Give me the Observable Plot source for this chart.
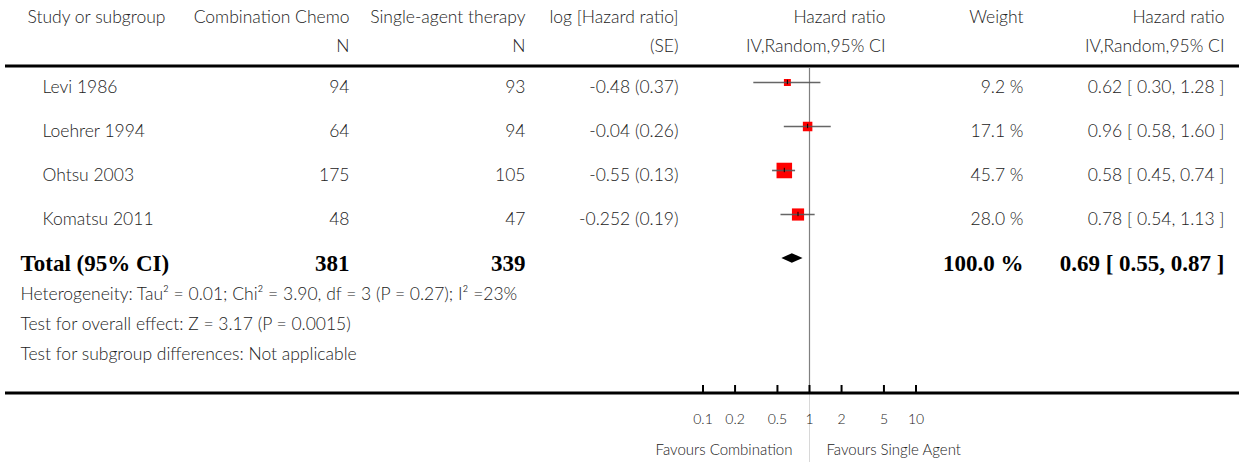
<!DOCTYPE html>
<html><head><meta charset="utf-8">
<script src="https://cdn.jsdelivr.net/npm/d3@7"></script>
<script src="https://cdn.jsdelivr.net/npm/@observablehq/plot@0.6"></script>
<style>body{margin:0;background:#fff}</style>
</head><body><div id="chart"></div>
<script>
// ---- data ----
const studies = ["Levi 1986", "Loehrer 1994", "Ohtsu 2003", "Komatsu 2011"];
const nCombination = [94, 64, 175, 48];
const nSingle = [93, 94, 105, 47];
const logHR = ["-0.48", "-0.04", "-0.55", "-0.252"];
const seLogHR = ["0.37", "0.26", "0.13", "0.19"];
const weights = [9.2, 17.1, 45.7, 28.0];
const hazardRatio = [0.62, 0.96, 0.58, 0.78];
const ciLower = [0.30, 0.58, 0.45, 0.54];
const ciUpper = [1.28, 1.60, 0.74, 1.13];
const totalLabel = "Total (95% CI)";
const totalCombination = 381;
const totalSingle = 339;
const totalWeight = 100.0;
const totalHR = 0.69;
const totalLower = 0.55;
const totalUpper = 0.87;
const headerLine1 = ["Study or subgroup", "Combination Chemo", "Single-agent therapy", "log [Hazard ratio]", "Hazard ratio", "Weight", "Hazard ratio"];
const headerLine2 = ["", "N", "N", "(SE)", "IV,Random,95% CI", "", "IV,Random,95% CI"];
const footnotes = [
  "Heterogeneity: Tau\u00B2 = 0.01; Chi\u00B2 = 3.90, df = 3 (P = 0.27); I\u00B2 =23%",
  "Test for overall effect: Z = 3.17 (P = 0.0015)",
  "Test for subgroup differences: Not applicable"
];
const axisTicks = [0.1, 0.2, 0.5, 1, 2, 5, 10];
const axisTickLabels = ["0.1", "0.2", "0.5", "1", "2", "5", "10"];
const favoursLeft = "Favours Combination";
const favoursRight = "Favours Single Agent";

// ---- table built from arrays ----
const rows = studies.map((s, i) => ({
  i, study: s, nc: nCombination[i], ns: nSingle[i],
  lse: `${logHR[i]} (${seLogHR[i]})`,
  w: weights[i], hr: hazardRatio[i], lo: ciLower[i], hi: ciUpper[i]
}));
const totalRow = 4;
const fmtCI = (h, l, u) => `${h.toFixed(2)} [ ${l.toFixed(2)}, ${u.toFixed(2)} ]`;

// ---- layout (pixels) ----
const W = 1239, H = 462;
const colX = [27, 349, 525, 678, 885, 1023, 1224];
const colAnchor = ["start", "end", "end", "end", "end", "end", "end"];
const FONT = "Lato, 'Open Sans', sans-serif";
const TXT = "#222";
const light = {fill: TXT, fontWeight: 300, fontSize: 17.5};
const bold = {fill: "#000", fontWeight: "bold", fontSize: 23, fontFamily: "'Liberation Serif', 'DejaVu Serif', serif"};

const at = (str, dx, dy, anchor, opts = {}) =>
  Plot.text([str], {text: d => d, frameAnchor: "top-left", dx, dy, textAnchor: anchor, lineAnchor: "middle", ...light, ...opts});

const marks = [];
// header
headerLine1.forEach((h, k) => marks.push(at(h, colX[k], 17, colAnchor[k])));
headerLine2.forEach((h, k) => { if (h) marks.push(at(h, colX[k], 46, colAnchor[k])); });
marks.push(Plot.ruleY([0], {dy: -16.5, strokeWidth: 3, stroke: "#000", insetLeft: 5}));

// reference line at HR = 1
marks.push(Plot.ruleX([1], {stroke: "#808080", strokeWidth: 1.2, insetTop: 67, insetBottom: H - 392}));
marks.push(Plot.ruleX([1], {stroke: "#d8d8d8", strokeWidth: 1, insetTop: 392}));

// row text
const rowText = (field, k, opts = {}) => Plot.text(rows, {y: "i", text: field, frameAnchor: "left", dx: colX[k], dy: 5, textAnchor: colAnchor[k], lineAnchor: "middle", ...light, ...opts});
marks.push(rowText("study", 0, {dx: 42}));
marks.push(rowText("nc", 1));
marks.push(rowText("ns", 2));
marks.push(rowText("lse", 3));
marks.push(rowText(d => `${d.w.toFixed(1)} %`, 5));
marks.push(rowText(d => fmtCI(d.hr, d.lo, d.hi), 6));

// squares, CI lines, point ticks
marks.push(Plot.dot(rows, {x: "hr", y: "i", r: "w", symbol: "square", fill: "#ff0000", stroke: null}));
marks.push(Plot.ruleY(rows, {y: "i", x1: "lo", x2: "hi", stroke: "#555", strokeOpacity: 0.9, strokeWidth: 1.6}));
marks.push(Plot.ruleX(rows, {x: "hr", y1: d => d.i - 0.05, y2: d => d.i + 0.05, stroke: "#000", strokeWidth: 1}));

// total row
const totals = [{i: totalRow, label: totalLabel, nc: totalCombination, ns: totalSingle}];
const totalText = (text, k, opts = {}) => Plot.text(totals, {y: "i", text, frameAnchor: "left", dx: colX[k], dy: 5, textAnchor: colAnchor[k], lineAnchor: "middle", ...bold, ...opts});
marks.push(totalText("label", 0, {dx: 20}));
marks.push(totalText("nc", 1));
marks.push(totalText("ns", 2));
marks.push(totalText(() => `${totalWeight.toFixed(1)} %`, 5));
marks.push(totalText(() => fmtCI(totalHR, totalLower, totalUpper), 6));
const diamond = [
  {x: totalLower, y1: totalRow, y2: totalRow},
  {x: totalHR, y1: totalRow - 0.11, y2: totalRow + 0.11},
  {x: totalUpper, y1: totalRow, y2: totalRow}
];
marks.push(Plot.areaY(diamond, {x: "x", y1: "y1", y2: "y2", fill: "#000"}));

// footnotes
footnotes.forEach((f, k) => marks.push(at(f, 20, 294 + 30 * k, "start")));

// bottom axis
marks.push(Plot.ruleY([totalRow], {dy: 134.5, strokeWidth: 3, stroke: "#000", insetLeft: 5}));
marks.push(Plot.ruleX(axisTicks, {x: d => d, stroke: "#000", strokeWidth: 2, insetTop: 385, insetBottom: H - 392}));
marks.push(Plot.text(axisTicks, {x: d => d, text: (d, k) => axisTickLabels[k], frameAnchor: "top", dy: 419, lineAnchor: "middle", ...light, fontSize: 14}));
marks.push(at(favoursLeft, 792, 450, "end", {fontSize: 15}));
marks.push(at(favoursRight, 826, 450, "start", {fontSize: 15}));

const chart = Plot.plot({
  width: W, height: H,
  marginTop: 0, marginRight: 0, marginBottom: 0, marginLeft: 0,
  style: {fontFamily: FONT, fontSize: "16px", background: "#fff"},
  x: {type: "log", domain: [0.1, 10], range: [702.5, 915.5], axis: null},
  y: {type: "linear", domain: [0, 4], range: [82, 258], axis: null},
  r: {type: "sqrt", domain: [0, 100], range: [0, 23 / Math.sqrt(Math.PI)]},
  marks
});
document.getElementById("chart").appendChild(chart);
</script>
</body></html>
